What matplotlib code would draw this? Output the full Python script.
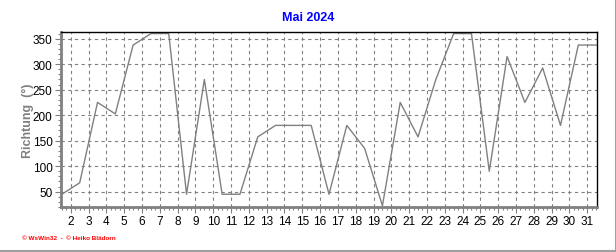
import numpy as np
import matplotlib
matplotlib.use("Agg")
import matplotlib.pyplot as plt
from matplotlib.ticker import MultipleLocator

# wind direction, one reading per day (plotted at midday)
days = np.arange(1, 32) + 0.5
richtung = [45, 67.5, 225, 202.5, 337.5, 360, 360, 45, 270, 45,
            45, 157.5, 180, 180, 180, 45, 180, 135, 22.5, 225,
            157.5, 270, 360, 360, 90, 315, 225, 292.5, 180, 337.5,
            337.5]
x_ticks = list(range(2, 32))
y_ticks = [50, 100, 150, 200, 250, 300, 350]

plt.rcParams['font.family'] = ['Liberation Sans', 'DejaVu Sans']

fig = plt.figure(figsize=(6.16, 2.53), dpi=100)
ax = fig.add_axes([61 / 616, 1 - 208 / 253, 536 / 616, 174.7 / 253])

ax.plot(days, richtung, color='#808080', lw=1.0)

ax.set_xlim(1.45, 31.55)
ax.set_ylim(20, 362.5)
ax.set_xticks(x_ticks)
ax.set_xticklabels([str(d) for d in x_ticks], fontsize=8.5)
ax.set_yticks(y_ticks)
ax.set_yticklabels([str(v) for v in y_ticks], fontsize=8.5)
ax.xaxis.set_minor_locator(MultipleLocator(0.25))
ax.yaxis.set_minor_locator(MultipleLocator(10))

ax.grid(True, which='major', color='#808080', ls=(0, (3, 3)), lw=0.8)
ax.tick_params(which='major', direction='out', length=4, width=0.8,
               color='#808080', pad=2)
ax.tick_params(which='minor', direction='out', length=2, width=0.8,
               color='#808080')

for side in ('left', 'bottom'):
    ax.spines[side].set_color('#808080')
    ax.spines[side].set_linewidth(2)
for side in ('top', 'right'):
    ax.spines[side].set_color('black')
    ax.spines[side].set_linewidth(1)

ax.set_ylabel('Richtung  (°)', color='#808080', fontsize=9,
              fontweight='bold', labelpad=-1)
fig.text(308 / 616, 1 - 18 / 253, 'Mai 2024', color='#0000FF',
         fontsize=9, fontweight='bold', ha='center', va='center')
fig.text(22 / 616, 1 - 239 / 253, '© WsWin32  -  © Heiko Blädorn',
         color='#FF0000', fontsize=4.6, fontweight='bold', va='center')

# frame lines on the right and bottom edge of the picture
fig.add_artist(plt.Line2D([615.5 / 616, 615.5 / 616], [0, 1],
                          color='#A0A0A0', lw=1.5))
fig.add_artist(plt.Line2D([0, 1], [1.5 / 253, 1.5 / 253],
                          color='#A0A0A0', lw=1.5))

fig.savefig('out.png', dpi=100)
